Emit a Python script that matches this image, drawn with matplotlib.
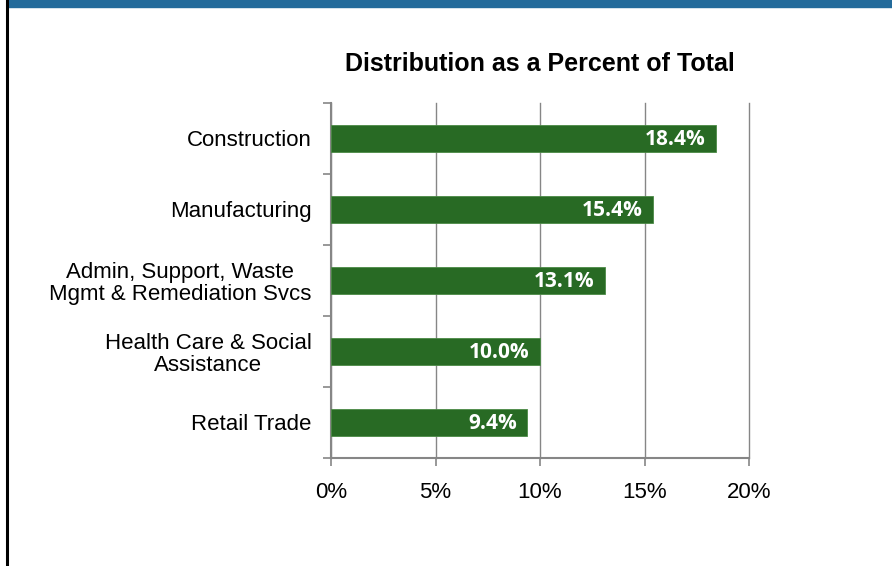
import matplotlib
matplotlib.use("Agg")
import matplotlib.pyplot as plt
from matplotlib.patches import Rectangle
from matplotlib.lines import Line2D
import numpy as np

categories = ["Construction", "Manufacturing",
              "Admin, Support, Waste\nMgmt & Remediation Svcs",
              "Health Care & Social\nAssistance", "Retail Trade"]
values = [18.4, 15.4, 13.1, 10.0, 9.4]
xticks = [0, 5, 10, 15, 20]
xtick_labels = ["0%", "5%", "10%", "15%", "20%"]

plt.rcParams['font.family'] = ['Liberation Sans', 'DejaVu Sans']

fig = plt.figure(figsize=(8.92, 5.66), dpi=100)

# header stripe and left border
fig.add_artist(Rectangle((8/892, 1 - 7/566), 1, 7/566, transform=fig.transFigure,
                         color="#236b9b", zorder=5))
fig.add_artist(Line2D([7/892, 7/892], [0, 1], transform=fig.transFigure,
                      color="black", lw=2.2, zorder=5))

ax = fig.add_axes([331/892, 1 - 458/566, 418/892, 355/566])

ind = np.arange(len(categories))
ax.barh(ind, values, height=0.38, color="#286a24", edgecolor="#4b8a45", lw=0.6, zorder=3)
for i, v in zip(ind, values):
    ax.text(v - 0.5, i + 0.02, "%.1f%%" % v, ha="right", va="center", color="white",
            fontsize=15, fontweight="bold", family=["Open Sans", "DejaVu Sans"], zorder=4)

ax.set_ylim(len(categories) - 0.5, -0.5)
ax.set_xlim(0, 20)
ax.set_xticks(xticks)
ax.set_xticklabels(xtick_labels, fontsize=16)
ax.set_yticks(ind)
ax.set_yticklabels(categories, fontsize=16, multialignment="center", linespacing=1.05)
ax.set_yticks(np.arange(len(categories) + 1) - 0.5, minor=True)
ax.tick_params(axis="y", which="major", length=0, pad=14)
ax.tick_params(axis="y", which="minor", length=6, color="#868686", width=1.2)
ax.tick_params(axis="x", length=6, color="#868686", width=1.2, pad=11)

ax.grid(axis="x", color="#868686", lw=1.0, zorder=0)
for gl in ax.get_xgridlines():
    gl.set_clip_on(False)
for s in ["top", "right"]:
    ax.spines[s].set_visible(False)
for s in ["left", "bottom"]:
    ax.spines[s].set_color("#868686")
    ax.spines[s].set_linewidth(1.5)

fig.text(540/892, 1 - 64/566, "Distribution as a Percent of Total", ha="center", va="center",
         fontsize=18, fontweight="bold")

fig.savefig("out.png", dpi=100)
